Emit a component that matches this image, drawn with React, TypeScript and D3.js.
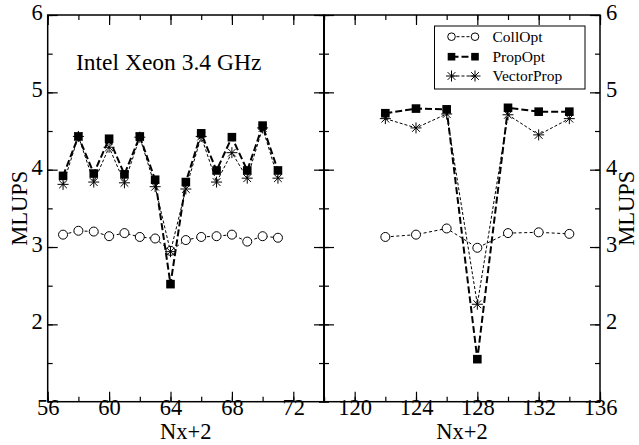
import React, { useEffect, useRef } from "react";
import * as d3 from "d3";

// left panel (Nx+2 = 57..71)
const leftX = [57, 58, 59, 60, 61, 62, 63, 64, 65, 66, 67, 68, 69, 70, 71];
const leftColl = [3.16, 3.21, 3.2, 3.14, 3.18, 3.13, 3.11, 2.95, 3.09, 3.13, 3.14, 3.16, 3.07, 3.14, 3.12];
const leftProp = [3.92, 4.43, 3.95, 4.4, 3.94, 4.43, 3.87, 2.52, 3.84, 4.47, 3.99, 4.42, 3.99, 4.57, 3.99];
const leftVector = [3.81, 4.43, 3.84, 4.29, 3.83, 4.42, 3.78, 2.94, 3.75, 4.43, 3.84, 4.22, 3.89, 4.54, 3.89];

// right panel (Nx+2 = 122..134)
const rightX = [122, 124, 126, 128, 130, 132, 134];
const rightColl = [3.13, 3.16, 3.24, 2.99, 3.18, 3.19, 3.17];
const rightProp = [4.73, 4.79, 4.78, 1.55, 4.8, 4.75, 4.75];
const rightVector = [4.66, 4.54, 4.72, 2.26, 4.71, 4.45, 4.66];

const leftTicks = [56, 60, 64, 68, 72];
const rightTicks = [120, 124, 128, 132, 136];
const yTicks = [2, 3, 4, 5, 6];
const seriesNames = ["CollOpt", "PropOpt", "VectorProp"];

const FONT = "'Liberation Serif', 'Times New Roman', serif";

const App = () => {
  const ref = useRef<SVGSVGElement>(null);

  useEffect(() => {
    const svg = d3.select(ref.current);
    svg.selectAll("*").remove();

    const top = 15;
    const bottom = 401.7;
    const y = d3.scaleLinear().domain([1, 6]).range([bottom, top]);

    const panels = [
      { xs: leftX, coll: leftColl, prop: leftProp, vec: leftVector, domain: [56, 74], range: [47.7, 324], ticks: leftTicks, side: "left" },
      { xs: rightX, coll: rightColl, prop: rightProp, vec: rightVector, domain: [118, 136], range: [324, 600], ticks: rightTicks, side: "right" },
    ];

    const star = (g, cx, cy, r) => {
      const p = d3.path();
      for (let k = 0; k < 4; k++) {
        const a = (k * Math.PI) / 4;
        p.moveTo(cx - r * Math.cos(a), cy - r * Math.sin(a));
        p.lineTo(cx + r * Math.cos(a), cy + r * Math.sin(a));
      }
      g.append("path").attr("d", p.toString()).attr("stroke", "#000").attr("stroke-width", 1).attr("fill", "none");
    };

    panels.forEach((pn) => {
      const x = d3.scaleLinear().domain(pn.domain).range(pn.range);
      const g = svg.append("g");
      const minorX = d3.range(pn.domain[0], pn.domain[1] + 0.01, 2);
      const minorY = d3.range(1, 6.01, 0.5);

      const styleAxis = (sel) => {
        sel.select(".domain").remove();
        sel.selectAll("line").attr("stroke", "#000").attr("stroke-width", 1.2);
        sel.selectAll("text").attr("font-family", FONT).attr("font-size", 22.5).attr("fill", "#000");
      };

      // minor ticks
      g.append("g").attr("transform", `translate(0,${bottom})`)
        .call(d3.axisBottom(x).tickValues(minorX).tickSize(-5).tickSizeOuter(0).tickFormat(() => "")).call(styleAxis);
      g.append("g").attr("transform", `translate(0,${top})`)
        .call(d3.axisTop(x).tickValues(minorX).tickSize(-5).tickSizeOuter(0).tickFormat(() => "")).call(styleAxis);
      g.append("g").attr("transform", `translate(${pn.range[0]},0)`)
        .call(d3.axisLeft(y).tickValues(minorY).tickSize(-5).tickSizeOuter(0).tickFormat(() => "")).call(styleAxis);
      g.append("g").attr("transform", `translate(${pn.range[1]},0)`)
        .call(d3.axisRight(y).tickValues(minorY).tickSize(-5).tickSizeOuter(0).tickFormat(() => "")).call(styleAxis);

      // major ticks
      const majorX = pn.ticks.filter((t) => t > pn.domain[0] || pn.side === "left");
      g.append("g").attr("transform", `translate(0,${bottom})`)
        .call(d3.axisBottom(x).tickValues(majorX).tickSize(-10).tickSizeOuter(0).tickPadding(9).tickFormat(d3.format("d"))).call(styleAxis);
      g.append("g").attr("transform", `translate(0,${top})`)
        .call(d3.axisTop(x).tickValues(majorX).tickSize(-10).tickSizeOuter(0).tickFormat(() => "")).call(styleAxis);
      g.append("g").attr("transform", `translate(${pn.range[0]},0)`)
        .call(d3.axisLeft(y).tickValues(yTicks).tickSize(-10).tickSizeOuter(0).tickPadding(5)
          .tickFormat(pn.side === "left" ? d3.format("d") : () => "")).call(styleAxis);
      g.append("g").attr("transform", `translate(${pn.range[1]},0)`)
        .call(d3.axisRight(y).tickValues(yTicks).tickSize(-10).tickSizeOuter(0).tickPadding(6)
          .tickFormat(pn.side === "right" ? d3.format("d") : () => "")).call(styleAxis);
      g.selectAll("text").attr("dy", null).filter(function () {
        return (this as SVGTextElement).getAttribute("text-anchor") !== "middle";
      }).attr("dy", "0.2em");
      g.selectAll("text").filter(function () {
        return (this as SVGTextElement).getAttribute("text-anchor") === "middle";
      }).attr("dy", "0.7em");

      // frame
      g.append("rect").attr("x", pn.range[0]).attr("y", top)
        .attr("width", pn.range[1] - pn.range[0]).attr("height", bottom - top)
        .attr("fill", "none").attr("stroke", "#000").attr("stroke-width", 1.5);

      // axis titles
      g.append("text").attr("x", (pn.range[0] + pn.range[1]) / 2).attr("y", 439)
        .attr("text-anchor", "middle").attr("font-family", FONT).attr("font-size", 22.5).text("Nx+2");
      const yx = pn.side === "left" ? 27 : 634;
      g.append("text").attr("transform", `translate(${yx},${(top + bottom) / 2}) rotate(-90)`)
        .attr("text-anchor", "middle").attr("font-family", FONT).attr("font-size", 22.5).text("MLUPS");

      const line = d3.line<number>().x((d, i) => x(pn.xs[i])).y((d) => y(d));

      // CollOpt
      g.append("path").datum(pn.coll).attr("d", line).attr("fill", "none").attr("stroke", "#000")
        .attr("stroke-width", 1).attr("stroke-dasharray", "3,2.5");
      // VectorProp
      g.append("path").datum(pn.vec).attr("d", line).attr("fill", "none").attr("stroke", "#000")
        .attr("stroke-width", 1).attr("stroke-dasharray", "3,2");
      // PropOpt
      g.append("path").datum(pn.prop).attr("d", line).attr("fill", "none").attr("stroke", "#000")
        .attr("stroke-width", 2).attr("stroke-dasharray", "7,3");

      pn.coll.forEach((v, i) => {
        g.append("circle").attr("cx", x(pn.xs[i])).attr("cy", y(v)).attr("r", 4.5)
          .attr("fill", "#fff").attr("stroke", "#000").attr("stroke-width", 1);
      });
      pn.prop.forEach((v, i) => {
        g.append("rect").attr("x", x(pn.xs[i]) - 4.3).attr("y", y(v) - 4.3).attr("width", 8.6).attr("height", 8.6)
          .attr("fill", "#000");
      });
      pn.vec.forEach((v, i) => star(g, x(pn.xs[i]), y(v), 5.5));
    });

    // thicker divider between panels
    svg.append("line").attr("x1", 324).attr("x2", 324).attr("y1", top).attr("y2", bottom)
      .attr("stroke", "#000").attr("stroke-width", 2);

    // annotation
    svg.append("text").attr("x", 76).attr("y", 70).attr("font-family", FONT).attr("font-size", 23.5)
      .text("Intel Xeon 3.4 GHz");

    // legend
    const lg = svg.append("g");
    lg.append("rect").attr("x", 434.5).attr("y", 26).attr("width", 150.5).attr("height", 63)
      .attr("fill", "#fff").attr("stroke", "#000").attr("stroke-width", 1);
    const rows = [36.7, 56.7, 76];
    seriesNames.forEach((name, i) => {
      const cy = rows[i];
      const x1 = 451.5;
      const x2 = 475;
      lg.append("line").attr("x1", x1).attr("x2", x2).attr("y1", cy).attr("y2", cy).attr("stroke", "#000")
        .attr("stroke-width", i === 1 ? 2 : 1).attr("stroke-dasharray", i === 1 ? "7,3" : "3,2");
      [x1, x2].forEach((cx) => {
        if (i === 0) {
          lg.append("circle").attr("cx", cx).attr("cy", cy).attr("r", 3.8).attr("fill", "#fff").attr("stroke", "#000");
        } else if (i === 1) {
          lg.append("rect").attr("x", cx - 3.8).attr("y", cy - 3.8).attr("width", 7.6).attr("height", 7.6).attr("fill", "#000");
        } else {
          star(lg, cx, cy, 5.5);
        }
      });
      lg.append("text").attr("x", 492.5).attr("y", cy + 5).attr("font-family", FONT).attr("font-size", 15.5).text(name);
    });
  }, []);

  return (
    <svg ref={ref} width={639} height={445} style={{ position: "absolute", left: 0, top: 0, background: "#fff" }} />
  );
};

export default App;
